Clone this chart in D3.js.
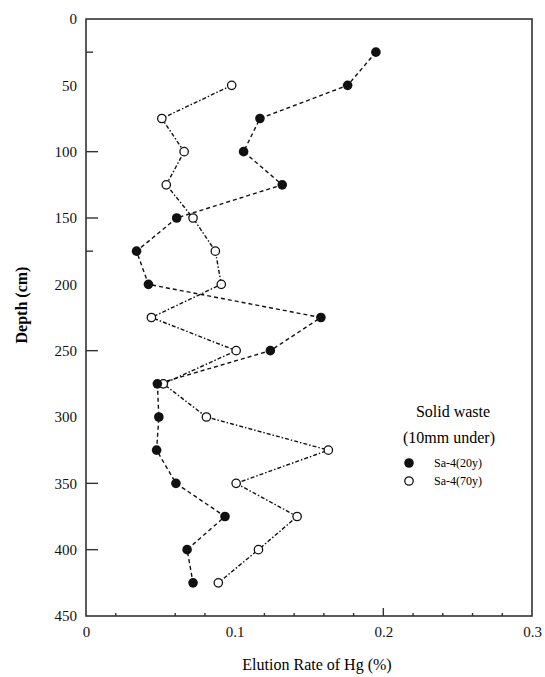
<!DOCTYPE html>
<html>
<head>
<meta charset="utf-8">
<script src="https://cdn.jsdelivr.net/npm/d3@7"></script>
<style>
  body { margin: 0; background: #fff; }
  svg { display: block; font-family: "Liberation Serif", "DejaVu Serif", serif; }
</style>
</head>
<body>
<svg id="chart" width="545" height="677">
  <g class="x-axis"></g>
  <g class="y-axis"></g>
  <g class="plot"></g>
</svg>
<script>
// depth (cm) of each sample
const depths20 = [25, 50, 75, 100, 125, 150, 175, 200, 225, 250, 275, 300, 325, 350, 375, 400, 425]
const depths70 = [50, 75, 100, 125, 150, 175, 200, 225, 250, 275, 300, 325, 350, 375, 400, 425]

// elution rate of Hg (%)
const sa20 = [0.195, 0.176, 0.117, 0.106, 0.132, 0.061, 0.034, 0.042, 0.158, 0.124, 0.048, 0.049, 0.0475, 0.0605, 0.0935, 0.068, 0.072]
const sa70 = [0.098, 0.051, 0.066, 0.054, 0.072, 0.087, 0.091, 0.044, 0.101, 0.052, 0.081, 0.163, 0.101, 0.142, 0.116, 0.089]

const yTickLabels = [0, 50, 100, 150, 200, 250, 300, 350, 400, 450]
const xTickLabels = [0, 0.1, 0.2, 0.3]
// tick marks as they appear on the scanned figure
const yMajorTicks = [100, 150, 250, 350, 400]
const yMinorTicks = [25, 175]
const xMinorTicks = [0.02, 0.06, 0.08, 0.12, 0.14, 0.16, 0.18, 0.22, 0.24, 0.26, 0.28]
const xMajorTicks = [0.2]

const seriesNames = ["Sa-4(20y)", "Sa-4(70y)"]

const margin = { top: 19, right: 13, bottom: 61, left: 86 }
const width = 545 - margin.left - margin.right
const height = 677 - margin.top - margin.bottom

const svg = d3.select("svg#chart")
const plot = svg.select("g.plot").attr("transform", `translate(${margin.left},${margin.top})`)

const x = d3.scaleLinear().domain([0, 0.3]).range([0, width])
const y = d3.scaleLinear().domain([0, 450]).range([0, height])

// axes (labels only, ticks drawn inward below)
const yAxis = d3.axisLeft(y).tickValues(yTickLabels).tickSize(0).tickPadding(9).tickFormat(d3.format("d"))
const xAxis = d3.axisBottom(x).tickValues(xTickLabels).tickSize(0).tickPadding(10).tickFormat(d => d === 0 ? "0" : d3.format(".1f")(d))

svg.select(".y-axis")
  .attr("transform", `translate(${margin.left},${margin.top})`)
  .call(yAxis)
svg.select(".x-axis")
  .attr("transform", `translate(${margin.left},${height + margin.top})`)
  .call(xAxis)

svg.selectAll(".x-axis path, .y-axis path").style("display", "none")
svg.selectAll(".x-axis text, .y-axis text")
  .style("font-size", "15px")
  .style("font-family", "'Liberation Serif', serif")
  .attr("fill", "#111")

// frame
plot.append("rect")
  .attr("x", 0).attr("y", 0)
  .attr("width", width).attr("height", height)
  .attr("fill", "none").attr("stroke", "#333").attr("stroke-width", 1.6)

// inward ticks
plot.selectAll(".ymaj").data(yMajorTicks).enter().append("line")
  .attr("x1", 0).attr("x2", 12).attr("y1", d => y(d)).attr("y2", d => y(d))
  .attr("stroke", "#333").attr("stroke-width", 1.4)
plot.selectAll(".ymin").data(yMinorTicks).enter().append("line")
  .attr("x1", 0).attr("x2", 7).attr("y1", d => y(d)).attr("y2", d => y(d))
  .attr("stroke", "#333").attr("stroke-width", 1.4)
plot.selectAll(".xmin").data(xMinorTicks).enter().append("line")
  .attr("x1", d => x(d)).attr("x2", d => x(d)).attr("y1", height).attr("y2", height - 3)
  .attr("stroke", "#333").attr("stroke-width", 1.4)
plot.selectAll(".xmaj").data(xMajorTicks).enter().append("line")
  .attr("x1", d => x(d)).attr("x2", d => x(d)).attr("y1", height).attr("y2", height - 8)
  .attr("stroke", "#333").attr("stroke-width", 1.4)

// axis titles
svg.append("text")
  .attr("x", 317).attr("y", 670)
  .attr("text-anchor", "middle")
  .style("font-size", "16px")
  .text("Elution Rate of Hg (%)")

svg.append("text")
  .attr("transform", "translate(27,305) rotate(-90)")
  .attr("text-anchor", "middle")
  .style("font-size", "16px")
  .style("font-weight", "bold")
  .text("Depth (cm)")

const line = d3.line().x(d => x(d.value)).y(d => y(d.depth))

const data20 = depths20.map((d, i) => ({ depth: d, value: sa20[i] }))
const data70 = depths70.map((d, i) => ({ depth: d, value: sa70[i] }))

// 70y series (open circles)
plot.append("path")
  .datum(data70)
  .attr("d", line)
  .attr("fill", "none").attr("stroke", "#111")
  .attr("stroke-width", 1.4).attr("stroke-dasharray", "4,2,1.5,2")

// 20y series (filled circles)
plot.append("path")
  .datum(data20)
  .attr("d", line)
  .attr("fill", "none").attr("stroke", "#111")
  .attr("stroke-width", 1.4).attr("stroke-dasharray", "4,3")

plot.selectAll(".open").data(data70).enter().append("circle")
  .attr("cx", d => x(d.value)).attr("cy", d => y(d.depth)).attr("r", 4.2)
  .attr("fill", "#fff").attr("stroke", "#111").attr("stroke-width", 1.3)

plot.selectAll(".filled").data(data20).enter().append("circle")
  .attr("cx", d => x(d.value)).attr("cy", d => y(d.depth)).attr("r", 4.8)
  .attr("fill", "#111")

// legend
const legend = svg.append("g")
legend.append("text").attr("x", 453).attr("y", 417).attr("text-anchor", "middle")
  .style("font-size", "16px").text("Solid waste")
legend.append("text").attr("x", 449).attr("y", 443).attr("text-anchor", "middle")
  .style("font-size", "16px").text("(10mm under)")

legend.append("circle").attr("cx", 409).attr("cy", 463).attr("r", 4.8).attr("fill", "#111")
legend.append("circle").attr("cx", 409).attr("cy", 481).attr("r", 4.2)
  .attr("fill", "#fff").attr("stroke", "#111").attr("stroke-width", 1.3)
legend.selectAll(".lab").data(seriesNames).enter().append("text")
  .attr("x", 434).attr("y", (d, i) => 467 + i * 18)
  .style("font-size", "12px")
  .text(d => d)
</script>
</body>
</html>
